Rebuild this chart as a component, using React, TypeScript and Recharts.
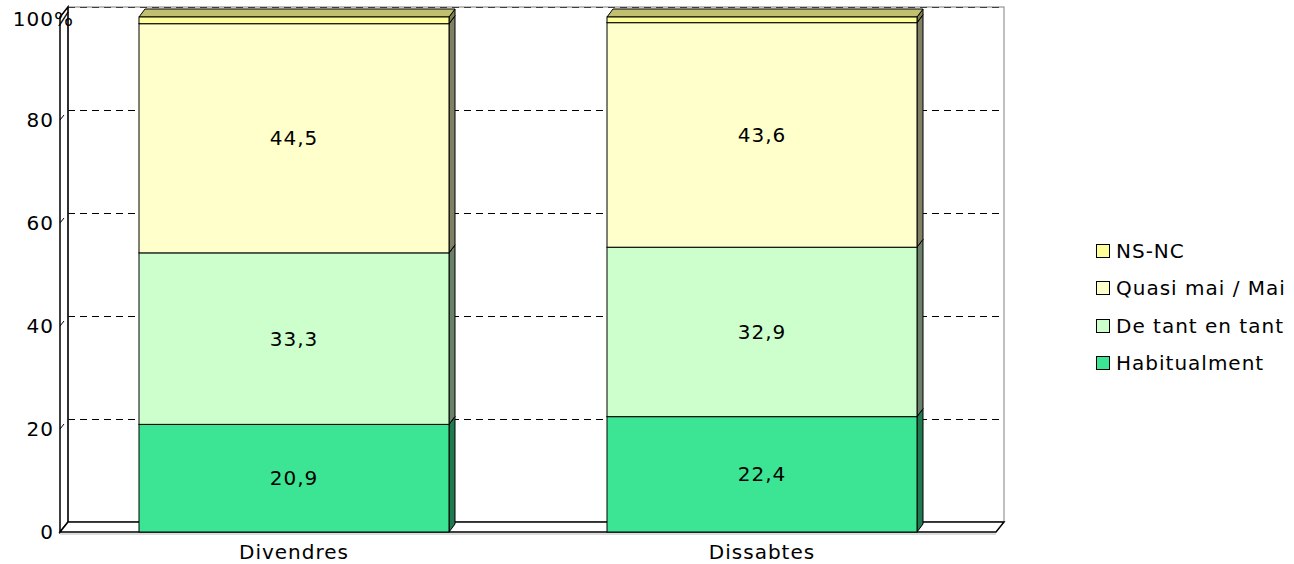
import { BarChart, Bar, XAxis, YAxis, CartesianGrid, ReferenceArea, LabelList, Legend } from 'recharts'

const categories = ['Divendres', 'Dissabtes']
const habitualment = [20.9, 22.4]
const deTantEnTant = [33.3, 32.9]
const quasiMai = [44.5, 43.6]
const nsNc = [1.3, 1.1]
const yTicks = [0, 20, 40, 60, 80, 100]

const FONT = '"DejaVu Sans", Verdana, sans-serif'
const DX = 6
const DY = 8
const WALL_DX = 8
const WALL_DY = 10

const SERIES = [
  { key: 'habitualment', name: 'Habitualment', fill: '#3CE594', side: '#1F7A4F', top: '#2BB874', label: true },
  { key: 'deTant', name: 'De tant en tant', fill: '#CCFFCC', side: '#6B806B', top: '#A3CCA3', label: true },
  { key: 'quasiMai', name: 'Quasi mai / Mai', fill: '#FFFFCC', side: '#808066', top: '#CCCCA3', label: true },
  { key: 'nsNc', name: 'NS-NC', fill: '#FFFF99', side: '#80804D', top: '#C0C070', label: false },
]

const data = categories.map((name, i) => ({
  name,
  habitualment: habitualment[i],
  deTant: deTantEnTant[i],
  quasiMai: quasiMai[i],
  nsNc: nsNc[i],
}))

const makeShape = (fill: string, side: string, top: string) => (props: any) => {
  const { x, y, width, height } = props
  if (!width || height == null) return <g />
  const r = x + width
  const b = y + height
  return (
    <g>
      <polygon
        points={`${r},${y} ${r + DX},${y - DY} ${r + DX},${b - DY} ${r},${b}`}
        fill={side}
        stroke="#000"
        strokeWidth={1}
      />
      <polygon
        points={`${x},${y} ${x + DX},${y - DY} ${r + DX},${y - DY} ${r},${y}`}
        fill={top}
        stroke="#000"
        strokeWidth={1}
      />
      <rect x={x} y={y} width={width} height={height} fill={fill} stroke="#000" strokeWidth={1} />
    </g>
  )
}

const Walls = (props: any) => {
  const { x, y, width, height } = props
  const b = y + height
  const r = x + width
  return (
    <g>
      {/* back wall */}
      <rect x={x + WALL_DX} y={y - WALL_DY} width={width} height={height} fill="none" stroke="#808080" />
      {/* left wall */}
      <polygon
        points={`${x},${b} ${x},${y} ${x + WALL_DX},${y - WALL_DY} ${x + WALL_DX},${b - WALL_DY}`}
        fill="none"
        stroke="#000"
        strokeWidth={1.5}
      />
      {/* floor */}
      <polygon
        points={`${x},${b} ${x + WALL_DX},${b - WALL_DY} ${r + WALL_DX},${b - WALL_DY} ${r},${b}`}
        fill="#fff"
        stroke="#000"
        strokeWidth={1.5}
      />
      <line x1={x} y1={b + 2} x2={r} y2={b + 2} stroke="#bbb" />
    </g>
  )
}

const gridLine = (p: any) => (
  <g key={p.key}>
    <line
      x1={p.x1 + WALL_DX}
      y1={p.y1 - WALL_DY}
      x2={p.x2 + WALL_DX}
      y2={p.y2 - WALL_DY}
      stroke="#000"
      strokeDasharray="7 5"
      strokeWidth={1}
      shapeRendering="crispEdges"
    />
    <line x1={p.x1} y1={p.y1} x2={p.x1 + 4} y2={p.y1 - 5} stroke="#000" strokeWidth={1} />
  </g>
)

const TEXT = { fontFamily: FONT, fontSize: 20, fill: '#000', letterSpacing: 1 }

const YTick = ({ x, y, payload }: any) => {
  if (payload.value === 100) {
    return (
      <g>
        <text x={x + 2} y={y + 2} dy="0.355em" textAnchor="end" {...TEXT}>100</text>
        <text x={x + 2} y={y + 2} dy="0.355em" textAnchor="start" {...TEXT}>%</text>
      </g>
    )
  }
  return (
    <text x={x + 2} y={y} dy="0.355em" textAnchor="end" {...TEXT}>
      {payload.value}
    </text>
  )
}

const LegendContent = () => (
  <div style={{ fontFamily: FONT, fontSize: 20, color: '#000', letterSpacing: 1 }}>
    {[...SERIES].reverse().map((s) => (
      <div key={s.key} style={{ display: 'flex', alignItems: 'center', height: 37.5 }}>
        <span
          style={{
            display: 'inline-block',
            width: 12,
            height: 12,
            border: '1px solid #000',
            background: s.fill,
            marginRight: 6,
          }}
        />
        <span>{s.name}</span>
      </div>
    ))}
  </div>
)

export default function App() {
  return (
    <div style={{ position: 'absolute', left: 0, top: 0, width: 1294, height: 564, background: '#fff' }}>
      <BarChart
        width={1294}
        height={564}
        data={data}
        margin={{ top: 17, right: 298, bottom: 0, left: 0 }}
        barSize={310}
      >
        <CartesianGrid vertical={false} horizontal={gridLine} />
        <ReferenceArea y1={0} y2={100} shape={Walls} ifOverflow="visible" />
        <XAxis
          dataKey="name"
          axisLine={false}
          tickLine={false}
          height={32}
          tickMargin={7}
          tick={TEXT}
        />
        <YAxis
          type="number"
          domain={[0, 100]}
          ticks={yTicks}
          width={60}
          axisLine={false}
          tickLine={false}
          tick={<YTick />}
        />
        <Legend
          layout="vertical"
          align="center"
          verticalAlign="middle"
          content={<LegendContent />}
          wrapperStyle={{ position: 'absolute', left: 1096, top: 232, width: 200 }}
        />
        {SERIES.map((s) => (
          <Bar
            key={s.key}
            dataKey={s.key}
            name={s.name}
            stackId="a"
            fill={s.fill}
            shape={makeShape(s.fill, s.side, s.top)}
            isAnimationActive={false}
          >
            {s.label && (
              <LabelList
                dataKey={s.key}
                position="center"
                formatter={(v: any) => String(v).replace('.', ',')}
                fill="#000"
                fontSize={20}
                fontFamily={FONT}
                letterSpacing={1}
              />
            )}
          </Bar>
        ))}
      </BarChart>
    </div>
  )
}
